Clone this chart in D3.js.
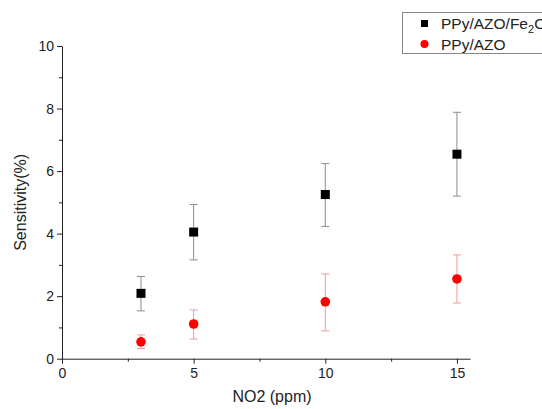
<!DOCTYPE html>
<html>
<head>
<meta charset="utf-8">
<script src="https://cdn.jsdelivr.net/npm/d3@7"></script>
<style>
  body { margin: 0; background: #fff; overflow: hidden; }
  svg { font-family: "Liberation Sans", Arial, sans-serif; }
</style>
</head>
<body>
<div id="plot"></div>
<script>
// NO2 concentration (ppm)
const conc = [3, 5, 10, 15];

// PPy/AZO/Fe2O3 sensitivity with error bar limits
const fe2o3Mean = [2.09, 4.05, 5.25, 6.54];
const fe2o3Low  = [1.53, 3.16, 4.23, 5.20];
const fe2o3High = [2.63, 4.93, 6.24, 7.88];

// PPy/AZO sensitivity with error bar limits
const azoMean = [0.54, 1.11, 1.82, 2.55];
const azoLow  = [0.33, 0.63, 0.89, 1.78];
const azoHigh = [0.76, 1.56, 2.71, 3.32];

const xTicks = [0, 5, 10, 15];
const yTicks = [0, 2, 4, 6, 8, 10];

const W = 542, H = 409;
const margin = {top: 46, right: 72, bottom: 51, left: 62};

const svg = d3.select("#plot").append("svg")
  .attr("width", W)
  .attr("height", H);

const x = d3.scaleLinear().domain([0, 15.5]).range([margin.left, margin.left + 26.33 * 15.5]);
const y = d3.scaleLinear().domain([0, 10]).range([H - margin.bottom + 0.7, margin.top]);

// minor ticks
svg.append("g")
  .attr("transform", `translate(0,${y(0)})`)
  .call(d3.axisBottom(x).tickValues([2.5, 7.5, 12.5]).tickSize(3).tickFormat(""))
  .call(g => g.select(".domain").remove());
svg.append("g")
  .attr("transform", `translate(${x(0)},0)`)
  .call(d3.axisLeft(y).tickValues([1, 3, 5, 7, 9]).tickSize(3).tickFormat(""))
  .call(g => g.select(".domain").remove());

// main axes
svg.append("g")
  .attr("transform", `translate(0,${y(0)})`)
  .call(d3.axisBottom(x).tickValues(xTicks).tickSize(5).tickSizeOuter(0).tickPadding(4));
svg.append("g")
  .attr("transform", `translate(${x(0)},0)`)
  .call(d3.axisLeft(y).tickValues(yTicks).tickSize(5).tickSizeOuter(0).tickPadding(3));

svg.selectAll(".tick text").attr("font-size", 14).attr("fill", "#222")
  .attr("font-family", "Liberation Sans, Arial, sans-serif");
svg.selectAll(".domain, .tick line").attr("stroke", "#222");

// axis titles
svg.append("text")
  .attr("x", 272).attr("y", 402)
  .attr("text-anchor", "middle")
  .attr("font-size", 16).attr("fill", "#222")
  .text("NO2 (ppm)");

svg.append("text")
  .attr("transform", `translate(26,${(y(0) + y(10)) / 2}) rotate(-90)`)
  .attr("text-anchor", "middle")
  .attr("font-size", 16).attr("fill", "#222")
  .text("Sensitivity(%)");

function drawSeries(mean, low, high, barColor, drawMarker) {
  const g = svg.append("g");
  const rows = conc.map((c, i) => ({c, m: mean[i], lo: low[i], hi: high[i]}));
  g.selectAll("line.bar").data(rows).join("line")
    .attr("x1", d => x(d.c)).attr("x2", d => x(d.c))
    .attr("y1", d => y(d.lo)).attr("y2", d => y(d.hi))
    .attr("stroke", barColor).attr("stroke-width", 1);
  g.selectAll("line.capTop").data(rows).join("line")
    .attr("x1", d => x(d.c) - 4).attr("x2", d => x(d.c) + 4)
    .attr("y1", d => y(d.hi)).attr("y2", d => y(d.hi))
    .attr("stroke", barColor).attr("stroke-width", 1);
  g.selectAll("line.capBot").data(rows).join("line")
    .attr("x1", d => x(d.c) - 4).attr("x2", d => x(d.c) + 4)
    .attr("y1", d => y(d.lo)).attr("y2", d => y(d.lo))
    .attr("stroke", barColor).attr("stroke-width", 1);
  drawMarker(g, rows);
}

drawSeries(fe2o3Mean, fe2o3Low, fe2o3High, "#8c8c8c", (g, rows) => {
  g.selectAll("rect").data(rows).join("rect")
    .attr("x", d => x(d.c) - 4.5).attr("y", d => y(d.m) - 4.5)
    .attr("width", 9).attr("height", 9)
    .attr("fill", "#000");
});

drawSeries(azoMean, azoLow, azoHigh, "#f29a9a", (g, rows) => {
  g.selectAll("circle").data(rows).join("circle")
    .attr("cx", d => x(d.c)).attr("cy", d => y(d.m))
    .attr("r", 4.8)
    .attr("fill", "#ff0000");
});

// legend
const leg = svg.append("g");
leg.append("rect")
  .attr("x", 402.5).attr("y", 12.5)
  .attr("width", 160).attr("height", 41)
  .attr("fill", "#fff").attr("stroke", "#888");
leg.append("rect")
  .attr("x", 421).attr("y", 20).attr("width", 7).attr("height", 7).attr("fill", "#000");
leg.append("circle")
  .attr("cx", 424.5).attr("cy", 44).attr("r", 4).attr("fill", "#ff0000");
const t1 = leg.append("text").attr("x", 441).attr("y", 29).attr("font-size", 15.5).attr("fill", "#222");
t1.append("tspan").text("PPy/AZO/Fe");
t1.append("tspan").attr("font-size", 11).attr("dy", 4).text("2");
t1.append("tspan").attr("dy", -4).text("O");
t1.append("tspan").attr("font-size", 11).attr("dy", 4).text("3");
leg.append("text").attr("x", 441).attr("y", 50).attr("font-size", 15.5).attr("fill", "#222")
  .text("PPy/AZO");
</script>
</body>
</html>
